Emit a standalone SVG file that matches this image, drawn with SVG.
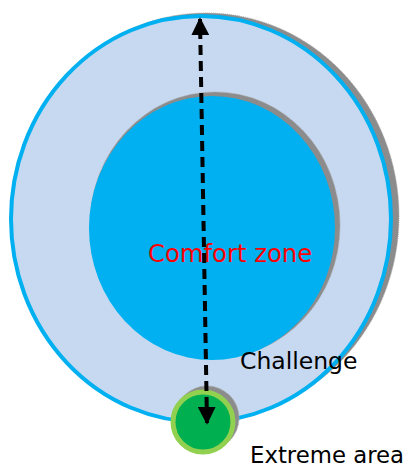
<svg xmlns="http://www.w3.org/2000/svg" width="408" height="468" viewBox="0 0 408 468">
<defs>
<style>
.shadow{fill:#8c8c8c;stroke:#a6a6a6;stroke-width:1;stroke-dasharray:1 1}
.lbl{font-family:"DejaVu Sans","Noto Sans",sans-serif}
</style>
<marker id="ah" viewBox="0 0 10 10" refX="9" refY="5" markerWidth="4.5" markerHeight="4.5" orient="auto-start-reverse">
<path d="M0,0 L10,5 L0,10 z" fill="#000"/>
</marker>
</defs>
<g id="outer">
<ellipse class="shadow" cx="206" cy="216" rx="193" ry="203"/>
<ellipse cx="201" cy="219" rx="190" ry="203" fill="#c6d9f1" stroke="#00b0f0" stroke-width="4"/>
</g>
<g id="inner">
<ellipse class="shadow" cx="215" cy="225" rx="125" ry="133"/>
<ellipse cx="212" cy="228" rx="123" ry="132" fill="#00b0f0"/>
</g>
<g id="extreme">
<circle class="shadow" cx="207" cy="418" r="32"/>
<circle cx="203" cy="422" r="30" fill="#00b050" stroke="#92d050" stroke-width="5"/>
</g>
<g id="connectors">
<line x1="207" y1="423" x2="200" y2="19" stroke="#000" stroke-width="4" stroke-dasharray="10 6" marker-start="url(#ah)" marker-end="url(#ah)"/>
</g>
<g id="labels">
<text class="lbl" x="148" y="262" font-size="24.3" fill="#ff0000">Comfort zone</text>
<text class="lbl" x="240" y="369" font-size="23.5" fill="#000">Challenge</text>
<text class="lbl" x="250" y="463" font-size="22.8" fill="#000">Extreme area</text>
</g>
</svg>
